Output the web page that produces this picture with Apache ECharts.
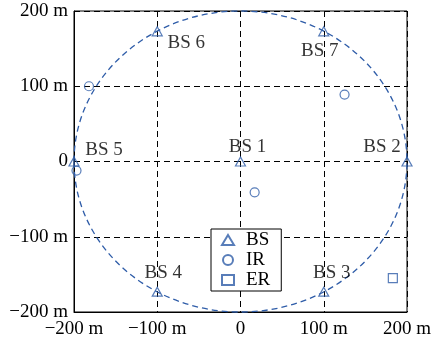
<!DOCTYPE html>
<html>
<head>
<meta charset="utf-8">
<script src="https://cdn.jsdelivr.net/npm/echarts@6/dist/echarts.min.js"></script>
<style>
  html, body { margin: 0; padding: 0; background: #fff; }
  #chart { width: 435px; height: 344px; }
</style>
</head>
<body>
<div id="chart"></div>
<script>
// --- Data ---
const bsNames = ['BS 1', 'BS 2', 'BS 3', 'BS 4', 'BS 5', 'BS 6', 'BS 7'];
const bsX = [0, 200, 100, -100, -200, -100, 100];
const bsY = [0, 0, -173, -173, 0, 173, 173];
const irX = [-182, 125, 17, -197];
const irY = [100, 89, -41, -12];
const erX = [183];
const erY = [-155];
const axisTicks = [-200, -100, 0, 100, 200];
const coverage = [0, 0, 200]; // centre x, centre y, radius

// --- Style / layout ---
const BLUE = '#2e5ca8';
const FONT = 'Liberation Serif';
// where each BS label sits relative to its marker, in px
const bsLabelOffset = [[7, -14], [-25, -14], [8, -19], [6, -19], [30, -11], [29, 12], [-4, 20]];

const fmtTick = (v) => v === 0 ? '0' : (v < 0 ? '\u2212' + (-v) : v) + ' m';
const zip = (xs, ys) => xs.map((x, i) => [x, ys[i]]);

const chart = echarts.init(document.getElementById('chart'));

const axisBase = {
    type: 'value',
    min: axisTicks[0],
    max: axisTicks[axisTicks.length - 1],
    interval: 100,
    axisLine: { show: true, onZero: false, lineStyle: { color: '#000', width: 1 } },
    axisTick: { show: false },
    axisLabel: { color: '#000', fontFamily: FONT, fontSize: 19, formatter: fmtTick },
    splitLine: { show: true, lineStyle: { color: '#000', type: [6, 4], width: 1 } }
};

const markerStyle = { color: 'rgba(0,0,0,0)', borderColor: BLUE, borderWidth: 1.2 };

chart.setOption({
    animation: false,
    grid: {
        left: 74, right: 28, top: 11, bottom: 32,
        show: true, borderColor: '#000', borderWidth: 1, backgroundColor: '#fff'
    },
    xAxis: Object.assign({}, axisBase, { axisLabel: Object.assign({}, axisBase.axisLabel, { margin: 8 }) }),
    yAxis: Object.assign({}, axisBase, { axisLabel: Object.assign({}, axisBase.axisLabel, { margin: 6 }) }),
    legend: {
        data: ['BS', 'IR', 'ER'],
        orient: 'vertical',
        left: 211, top: 229,
        padding: [1, 11, 1, 10],
        itemGap: 0,
        itemWidth: 12, itemHeight: 10,
        backgroundColor: '#fff',
        borderColor: '#000', borderWidth: 1,
        textStyle: { color: '#000', fontFamily: FONT, fontSize: 19, lineHeight: 20, padding: [0, 0, 0, 7] }
    },
    series: [
        {
            type: 'custom',
            name: 'coverage',
            data: [coverage],
            encode: { x: 0, y: 1 },
            z: 1,
            renderItem: (params, api) => {
                const c = api.coord([api.value(0), api.value(1)]);
                const s = api.size([api.value(2), api.value(2)]);
                return {
                    type: 'ellipse',
                    shape: { cx: c[0], cy: c[1], rx: s[0], ry: s[1] },
                    style: { fill: 'none', stroke: BLUE, lineWidth: 1.3, lineDash: [6, 4] }
                };
            }
        },
        {
            type: 'scatter',
            name: 'BS',
            symbol: 'triangle',
            symbolSize: [10, 9],
            itemStyle: markerStyle,
            z: 3,
            data: bsNames.map((n, i) => ({
                name: n,
                value: [bsX[i], bsY[i]],
                label: { offset: bsLabelOffset[i] }
            })),
            label: {
                show: true,
                position: 'inside',
                formatter: (p) => p.name,
                color: '#000',
                fontFamily: FONT,
                fontSize: 19
            }
        },
        {
            type: 'scatter',
            name: 'IR',
            symbol: 'circle',
            symbolSize: 9,
            itemStyle: markerStyle,
            z: 3,
            data: zip(irX, irY)
        },
        {
            type: 'scatter',
            name: 'ER',
            symbol: 'rect',
            symbolSize: 9,
            itemStyle: markerStyle,
            z: 3,
            data: zip(erX, erY)
        }
    ]
});
</script>
</body>
</html>
